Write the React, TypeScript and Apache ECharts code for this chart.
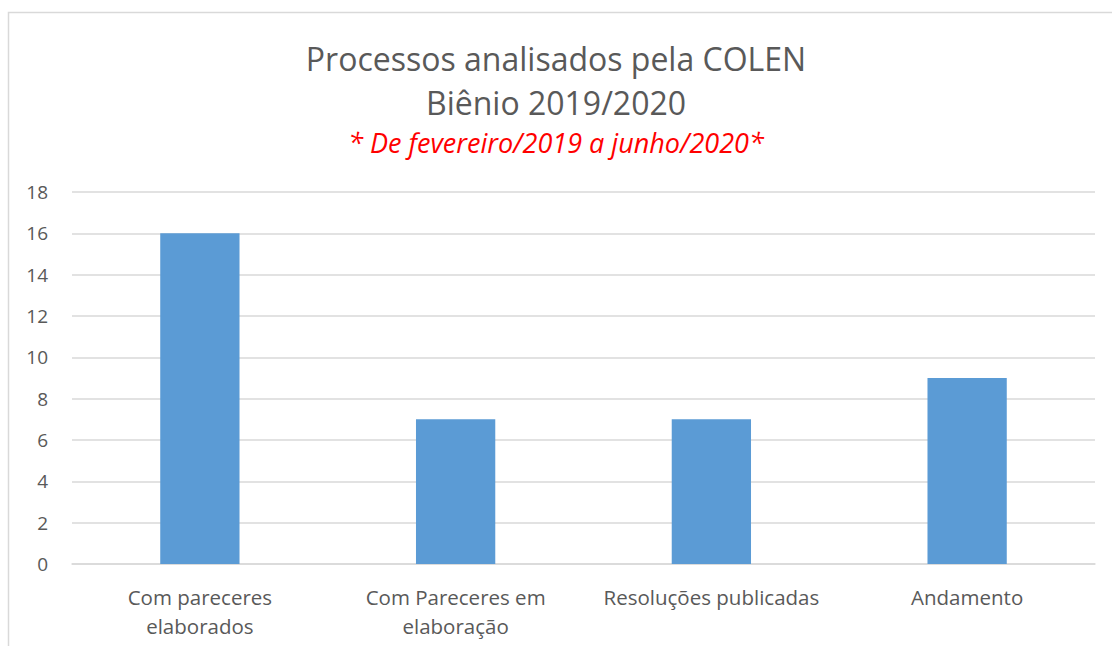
import React, { useEffect, useRef } from "react";
import * as echarts from "echarts";

const categories = [
  "Com pareceres\nelaborados",
  "Com Pareceres em\nelaboração",
  "Resoluções publicadas",
  "Andamento",
];
const values = [16, 7, 7, 9];
const titleText = "Processos analisados pela COLEN\nBiênio 2019/2020";
const subtitleText = "* De fevereiro/2019 a junho/2020*";

export default function App() {
  const ref = useRef<HTMLDivElement>(null);
  useEffect(() => {
    if (!ref.current) return;
    const chart = echarts.init(ref.current, null, { renderer: "svg" });
    const font = "Open Sans";
    chart.setOption({
      animation: false,
      backgroundColor: "#ffffff",
      textStyle: { fontFamily: font },
      title: [
        {
          text: titleText,
          left: "center",
          top: 31,
          textStyle: {
            fontFamily: font,
            fontSize: 32,
            fontWeight: "normal",
            color: "#595959",
            lineHeight: 44,
          },
        },
        {
          text: subtitleText,
          left: "center",
          top: 124,
          textStyle: {
            fontFamily: font,
            fontSize: 27,
            fontWeight: "normal",
            fontStyle: "italic",
            color: "#ff0000",
          },
        },
      ],
      graphic: [
        {
          type: "rect",
          shape: { x: 8.5, y: 12.5, width: 1200, height: 800 },
          style: { fill: "none", stroke: "#d9d9d9", lineWidth: 1.5 },
          silent: true,
        },
      ],
      grid: { left: 72, right: 17, top: 192, bottom: 82, containLabel: false },
      xAxis: {
        type: "category",
        data: categories,
        axisLine: { show: true, lineStyle: { color: "#d9d9d9", width: 1.5 } },
        axisTick: { show: false },
        axisLabel: {
          color: "#595959",
          fontSize: 20.5,
          fontFamily: font,
          lineHeight: 29,
          margin: 18,
          interval: 0,
        },
      },
      yAxis: {
        type: "value",
        min: 0,
        max: 18,
        interval: 2,
        axisLine: { show: false },
        axisTick: { show: false },
        axisLabel: {
          color: "#595959",
          fontSize: 19,
          fontFamily: font,
          margin: 24,
        },
        splitLine: { lineStyle: { color: "#d9d9d9", width: 1.5 } },
      },
      series: [
        {
          type: "bar",
          data: values,
          barWidth: "31%",
          itemStyle: { color: "#5b9bd5" },
        },
      ],
    });
    return () => chart.dispose();
  }, []);
  return (
    <div
      ref={ref}
      style={{ position: "fixed", left: 0, top: 0, width: 1112, height: 646 }}
    />
  );
}
